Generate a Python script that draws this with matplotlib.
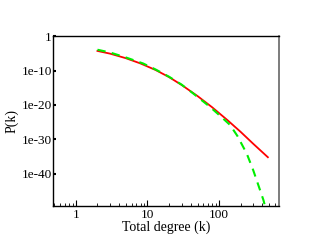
import numpy as np
import matplotlib.pyplot as plt
from matplotlib.ticker import LogLocator, FixedLocator, FixedFormatter, NullFormatter

# values (log10 of P)
red_k = [2, 3, 5, 8, 13, 20, 30, 50, 80, 130, 200, 300, 480]
red_logp = [-4.3, -5.09, -6.42, -7.95, -9.85, -11.91, -14.2, -17.42, -20.68, -24.37, -27.83,
            -31.3, -35.2]

green_k = [2, 3, 5, 8.7, 13, 20, 30, 43.7, 75, 100, 142, 180, 244, 300, 360, 417, 470]
green_logp = [-3.95, -4.75, -6.2, -7.95, -9.7, -11.8, -14.1, -16.7, -20.6, -22.9, -25.8, -29.0,
              -34.2, -39.0, -43.8, -47.7, -52.0]

y_ticks = [1, 1e-10, 1e-20, 1e-30, 1e-40]
y_labels = ['1', '1e-10', '1e-20', '1e-30', '1e-40']

plt.rcParams['font.family'] = 'Liberation Serif'

fig = plt.figure(figsize=(3.14, 2.43), dpi=100)
ax = fig.add_axes([0.169, 0.152, 0.72, 0.70])

ax.plot(red_k, 10.0 ** np.array(red_logp), color='#ff0000', lw=1.3)
ax.plot(green_k, 10.0 ** np.array(green_logp), color='#00ee00', lw=1.5, dashes=(4, 3))

ax.set_xscale('log')
ax.set_yscale('log')
ax.set_xlim(0.48, 690)
ax.set_ylim(10 ** -49.4, 10 ** 0.05)

ax.xaxis.set_major_locator(FixedLocator([1, 10, 100]))
ax.xaxis.set_major_formatter(FixedFormatter(['1', '10', '100']))
ax.xaxis.set_minor_locator(LogLocator(base=10, subs=np.arange(2, 10)))
ax.xaxis.set_minor_formatter(NullFormatter())
ax.yaxis.set_major_locator(FixedLocator(y_ticks))
ax.yaxis.set_major_formatter(FixedFormatter(y_labels))
ax.yaxis.set_minor_locator(FixedLocator([]))

ax.tick_params(axis='x', which='major', direction='in', length=4, width=0.8, labelsize=9.5, pad=2)
ax.tick_params(axis='x', which='minor', direction='in', length=2, width=0.6)
ax.tick_params(axis='y', which='major', direction='in', length=2, width=1.5, labelsize=9.5, pad=1)

for side in ['top', 'left', 'bottom']:
    ax.spines[side].set_linewidth(1.0)
ax.spines['right'].set_color('#666666')
ax.spines['right'].set_linewidth(1.2)

ax.set_xlabel('Total degree (k)', fontsize=10, labelpad=0)
ax.set_ylabel('P(k)', fontsize=10, labelpad=2)

fig.savefig('out.png', dpi=100)
